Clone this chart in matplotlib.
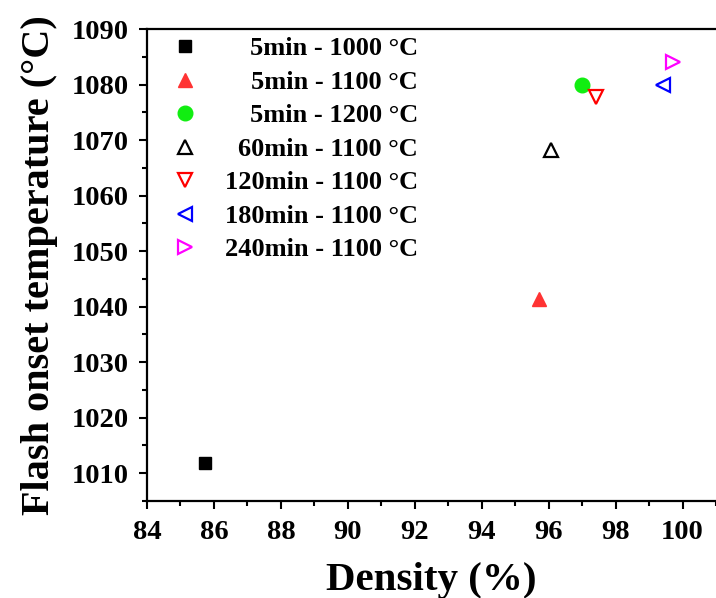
import matplotlib as mpl
import matplotlib.pyplot as plt
from matplotlib.ticker import MultipleLocator

# data
labels = ['5min - 1000 °C', '5min - 1100 °C', '5min - 1200 °C', '60min - 1100 °C',
          '120min - 1100 °C', '180min - 1100 °C', '240min - 1100 °C']
density = [85.73, 95.70, 96.99, 96.06, 97.41, 99.43, 99.72]
onset_temp = [1011.8, 1041.3, 1080.0, 1068.2, 1077.8, 1080.0, 1084.1]
markers = ['s', '^', 'o', '^', 'v', '<', '>']
colors = ['black', '#ff3333', '#11ee11', 'black', 'red', 'blue', '#ff00ff']
filled = [True, True, True, False, False, False, False]

mpl.rcParams['font.family'] = ['Liberation Serif', 'DejaVu Serif']
mpl.rcParams['font.weight'] = 'bold'

dpi = 100
fig = plt.figure(figsize=(716 / dpi, 598 / dpi), dpi=dpi)
ax = fig.add_axes([0.2053, 0.1622, 0.7947, 0.7893])

for x, y, m, c, f, lab in zip(density, onset_temp, markers, colors, filled, labels):
    ms = 8.5 if m == 's' else 10.5
    ax.plot(x, y, linestyle='none', marker=m, markersize=ms,
            markerfacecolor=c if f else 'none', markeredgecolor=c,
            markeredgewidth=1.6 if not f else 1, label=lab)

ax.set_xlim(84, 101)
ax.set_ylim(1005, 1090)
ax.xaxis.set_major_locator(MultipleLocator(2))
ax.xaxis.set_minor_locator(MultipleLocator(1))
ax.yaxis.set_major_locator(MultipleLocator(10))
ax.yaxis.set_minor_locator(MultipleLocator(5))
ax.tick_params(which='major', direction='out', length=6, width=1.5, labelsize=20.5)
ax.tick_params(which='minor', direction='out', length=3.5, width=1.5)
ax.tick_params(axis='x', pad=8)
ax.tick_params(axis='y', pad=7)
for s in ['left', 'bottom', 'top']:
    ax.spines[s].set_linewidth(1.6)
ax.spines['right'].set_visible(False)

ax.set_xlabel('Density (%)', fontsize=29.5, fontweight='bold', labelpad=12)
ax.set_ylabel('Flash onset temperature (°C)', fontsize=29, fontweight='bold', labelpad=10)

leg = ax.legend(loc='upper left', bbox_to_anchor=(0.044, 0.983), frameon=False,
                fontsize=19, handletextpad=1.0, labelspacing=0.38, handlelength=1.0,
                borderpad=0, borderaxespad=0)
fig.canvas.draw()
renderer = fig.canvas.get_renderer()
widths = [t.get_window_extent(renderer).width for t in leg.get_texts()]
maxw = max(widths)
# right-align the legend texts
for t, w in zip(leg.get_texts(), widths):
    t.set_position((maxw - w, 0))

fig.savefig('out.png', dpi=dpi)
